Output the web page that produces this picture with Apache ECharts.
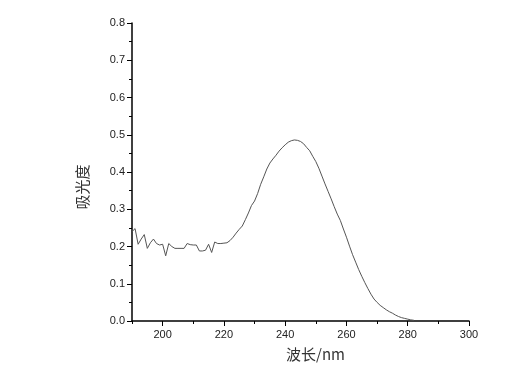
<!DOCTYPE html>
<html>
<head>
<meta charset="utf-8">
<script src="https://cdn.jsdelivr.net/npm/echarts@6/dist/echarts.min.js"></script>
<style>
  html, body { margin: 0; padding: 0; background: #fff; }
  #main { width: 523px; height: 378px; }
</style>
</head>
<body>
<div id="main"></div>
<script>
// 波长 (nm) 与 吸光度
var wavelength = [190, 191, 192, 193, 194, 195, 196, 197, 198, 199,
  200, 201, 202, 203, 204, 205, 206, 207, 208, 209,
  210, 211, 212, 213, 214, 215, 216, 217, 218, 219,
  220, 221, 222, 223, 224, 225, 226, 227, 228, 229,
  230, 231, 232, 233, 234, 235, 236, 237, 238, 239,
  240, 241, 242, 243, 244, 245, 246, 247, 248, 249,
  250, 251, 252, 253, 254, 255, 256, 257, 258, 259,
  260, 261, 262, 263, 264, 265, 266, 267, 268, 269,
  270, 271, 272, 273, 274, 275, 276, 277, 278, 279,
  280, 281, 282];
var absorbance = [0.240, 0.248, 0.206, 0.220, 0.232, 0.195, 0.210, 0.220, 0.208, 0.204,
  0.206, 0.175, 0.208, 0.200, 0.195, 0.195, 0.195, 0.195, 0.208, 0.205,
  0.204, 0.204, 0.188, 0.188, 0.190, 0.206, 0.184, 0.212, 0.208, 0.208,
  0.209, 0.210, 0.216, 0.225, 0.236, 0.246, 0.255, 0.272, 0.290, 0.310,
  0.322, 0.342, 0.367, 0.387, 0.408, 0.424, 0.435, 0.445, 0.456, 0.465,
  0.473, 0.480, 0.484, 0.486, 0.485, 0.482, 0.476, 0.466, 0.457, 0.442,
  0.428, 0.410, 0.389, 0.368, 0.348, 0.328, 0.307, 0.287, 0.270, 0.247,
  0.225, 0.201, 0.178, 0.158, 0.138, 0.120, 0.103, 0.087, 0.072, 0.059,
  0.050, 0.042, 0.036, 0.030, 0.025, 0.021, 0.016, 0.012, 0.009, 0.007,
  0.005, 0.003, 0.002];
var xMajorTicks = [200, 220, 240, 260, 280, 300];

var points = wavelength.map(function (w, i) { return [w, absorbance[i]]; });

var chart = echarts.init(document.getElementById('main'));
var labelFont = { color: '#222', fontSize: 11, fontFamily: 'Liberation Sans, Arial, sans-serif' };

var option = {
  animation: false,
  backgroundColor: '#fff',
  grid: { left: 132, right: 54, top: 23, bottom: 57 },
  xAxis: [
    {
      type: 'value',
      min: 190,
      max: 300,
      interval: 10,
      name: '波长/nm',
      nameLocation: 'middle',
      nameGap: 26,
      nameTextStyle: { color: '#333', fontSize: 15, fontFamily: 'Noto Sans CJK SC, sans-serif', padding: [0, 0, 0, 30] },
      axisLine: { show: true, lineStyle: { color: '#000', width: 1.5 } },
      axisTick: { show: true, length: 3, lineStyle: { color: '#000', width: 1 } },
      axisLabel: Object.assign({
        margin: 8,
        formatter: function (v) { return v % 20 === 0 ? String(v) : ''; }
      }, labelFont),
      splitLine: { show: false }
    },
    {
      // 主刻度
      type: 'value',
      min: 190,
      max: 300,
      position: 'bottom',
      axisLine: { show: false },
      axisTick: { show: true, length: 5, customValues: xMajorTicks, lineStyle: { color: '#000', width: 1 } },
      axisLabel: { show: false },
      splitLine: { show: false }
    }
  ],
  yAxis: {
    type: 'value',
    min: 0,
    max: 0.8,
    interval: 0.1,
    name: '吸光度',
    nameLocation: 'middle',
    nameGap: 42,
    nameTextStyle: { color: '#333', fontSize: 15, fontFamily: 'Noto Sans CJK SC, sans-serif', padding: [0, 30, 0, 0] },
    axisLine: { show: true, lineStyle: { color: '#000', width: 1.5 } },
    axisTick: { show: true, length: 5, lineStyle: { color: '#000', width: 1 } },
    minorTick: { show: true, splitNumber: 2, length: 3, lineStyle: { color: '#000', width: 1 } },
    axisLabel: Object.assign({
      margin: 7,
      formatter: function (v) { return v.toFixed(1); }
    }, labelFont),
    splitLine: { show: false }
  },
  series: [{
    type: 'line',
    xAxisIndex: 0,
    data: points,
    showSymbol: false,
    smooth: false,
    lineStyle: { color: '#555', width: 1 }
  }]
};

chart.setOption(option);
</script>
</body>
</html>
